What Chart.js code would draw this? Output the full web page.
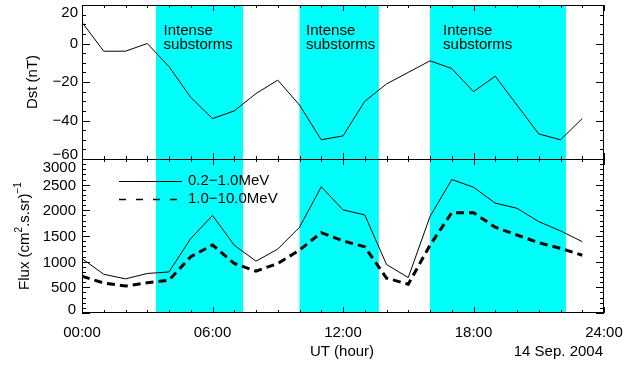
<!DOCTYPE html>
<html>
<head>
<meta charset="utf-8">
<script src="https://cdn.jsdelivr.net/npm/chart.js@4.4.1/dist/chart.umd.min.js"></script>
<style>
  html, body { margin: 0; padding: 0; background: #fff; }
</style>
</head>
<body>
<canvas id="chart" width="637" height="365"></canvas>
<script>
// hourly values, 14 Sep 2004
const hours = [0, 1, 2, 3, 4, 5, 6, 7, 8, 9, 10, 11, 12, 13, 14, 15, 16, 17, 18, 19, 20, 21, 22, 23];
const dst = [11, -4, -4, 0, -12, -28, -39, -35, -26, -19, -32, -50, -48, -30, -21, -15, -9, -13, -25, -17, -32, -47, -50, -39];
const fluxLow = [1060, 755, 665, 770, 800, 1450, 1900, 1320, 1010, 1245, 1670, 2460, 2010, 1910, 945, 690, 1880, 2600, 2450, 2140, 2040, 1780, 1600, 1390];
const fluxHigh = [715, 585, 525, 590, 640, 1095, 1325, 965, 815, 965, 1225, 1565, 1405, 1290, 680, 560, 1320, 1955, 1955, 1670, 1520, 1370, 1260, 1125];

const stormBands = [[3.4, 7.4], [10, 13.65], [16, 22.25]];
const stormLabelAt = [3.75, 10.3, 16.6];
const hourTicks = [0, 6, 12, 18, 24];
const hourLabels = ['00:00', '06:00', '12:00', '18:00', '24:00'];
const dstTicks = [20, 0, -20, -40, -60];
const fluxTicks = [0, 500, 1000, 1500, 2000, 2500, 3000];

const FONT = '15px "Liberation Sans", Arial, sans-serif';
const SMALL = '10px "Liberation Sans", Arial, sans-serif';
const CYAN = '#00FFFA';

const toXY = (ys) => hours.map((h, i) => ({x: h, y: ys[i]}));
const fmt = (v) => String(v).replace('-', '\u2212');

const panels = {
  beforeDatasetsDraw(chart) {
    const {ctx, chartArea: a, scales: {x}} = chart;
    ctx.save();
    ctx.fillStyle = CYAN;
    stormBands.forEach(([s, e]) => {
      const x0 = x.getPixelForValue(s), x1 = x.getPixelForValue(e);
      ctx.fillRect(x0, a.top, x1 - x0, a.bottom - a.top);
    });
    ctx.restore();
  },
  afterDatasetsDraw(chart) {
    const {ctx, chartArea: a, scales: {x, yDst, yFlux}} = chart;
    ctx.save();
    ctx.strokeStyle = '#000';
    ctx.fillStyle = '#000';
    ctx.lineWidth = 1;
    const mid = yDst.bottom;

    // frame and separator
    ctx.strokeRect(a.left + 0.5, a.top + 0.5, a.right - a.left - 1, a.bottom - a.top - 1);
    ctx.beginPath();
    ctx.moveTo(a.left, Math.round(mid) + 0.5);
    ctx.lineTo(a.right, Math.round(mid) + 0.5);
    ctx.stroke();

    // x ticks
    ctx.beginPath();
    for (let h = 0; h <= 24; h++) {
      const px = Math.round(x.getPixelForValue(h)) + 0.5;
      const len = h % 6 === 0 ? 6 : 3;
      ctx.moveTo(px, a.top); ctx.lineTo(px, a.top + len);
      ctx.moveTo(px, mid - len); ctx.lineTo(px, mid + len);
      ctx.moveTo(px, a.bottom); ctx.lineTo(px, a.bottom - len);
    }
    // y ticks
    const yTicks = (scale, step, major) => {
      for (let v = scale.min; v <= scale.max; v += step) {
        const py = Math.round(scale.getPixelForValue(v)) + 0.5;
        const len = v % major === 0 ? 8 : 4;
        ctx.moveTo(a.left, py); ctx.lineTo(a.left + len, py);
        ctx.moveTo(a.right, py); ctx.lineTo(a.right - len, py);
      }
    };
    yTicks(yDst, 5, 20);
    yTicks(yFlux, 100, 500);
    ctx.stroke();

    // tick labels
    ctx.font = FONT;
    ctx.textBaseline = 'middle';
    ctx.textAlign = 'right';
    const clampY = (py, s) => Math.min(Math.max(py, s.top + 8), s.bottom - 4);
    dstTicks.forEach(v => ctx.fillText(fmt(v), 78, clampY(yDst.getPixelForValue(v), yDst)));
    fluxTicks.forEach(v => ctx.fillText(String(v), 76, clampY(yFlux.getPixelForValue(v), yFlux) + 1));
    ctx.textAlign = 'center';
    hourTicks.forEach((h, i) => ctx.fillText(hourLabels[i], x.getPixelForValue(h), 333));
    ctx.fillText('UT (hour)', 342, 352);
    ctx.textAlign = 'right';
    ctx.fillText('14 Sep. 2004', 603, 352);

    // storm labels
    ctx.textAlign = 'left';
    stormLabelAt.forEach(h => {
      const px = x.getPixelForValue(h);
      ctx.fillText('Intense', px, 31);
      ctx.fillText('substorms', px, 45);
    });

    // axis titles
    ctx.save();
    ctx.translate(33, (yDst.top + yDst.bottom) / 2);
    ctx.rotate(-Math.PI / 2);
    ctx.textAlign = 'center';
    ctx.fillText('Dst (nT)', 0, 0);
    ctx.restore();

    ctx.save();
    ctx.translate(25, (yFlux.top + yFlux.bottom) / 2);
    ctx.rotate(-Math.PI / 2);
    ctx.textAlign = 'left';
    const parts = [['Flux (cm', FONT, 0], ['2', SMALL, -6], ['.s.sr)', FONT, 0], ['\u22121', SMALL, -7]];
    let total = 0;
    parts.forEach(([t, f]) => { ctx.font = f; total += ctx.measureText(t).width; });
    let cx = -total / 2;
    parts.forEach(([t, f, dy]) => {
      ctx.font = f;
      ctx.fillText(t, cx, dy);
      cx += ctx.measureText(t).width;
    });
    ctx.restore();

    // legend
    ctx.font = FONT;
    ctx.textAlign = 'left';
    ctx.beginPath();
    ctx.moveTo(119, 181.5); ctx.lineTo(182, 181.5);
    ctx.stroke();
    ctx.setLineDash([7, 10]);
    ctx.lineWidth = 1.5;
    ctx.beginPath();
    ctx.moveTo(119, 199.5); ctx.lineTo(182, 199.5);
    ctx.stroke();
    ctx.setLineDash([]);
    ctx.fillText(chart.data.datasets[1].label, 188, 181);
    ctx.fillText(chart.data.datasets[2].label, 188, 199);
    ctx.restore();
  }
};

new Chart(document.getElementById('chart'), {
  type: 'line',
  data: {
    datasets: [{
      label: 'Dst',
      data: toXY(dst),
      yAxisID: 'yDst',
      borderColor: '#000',
      borderWidth: 1,
      pointRadius: 0
    }, {
      label: '0.2\u22121.0MeV',
      data: toXY(fluxLow),
      yAxisID: 'yFlux',
      borderColor: '#000',
      borderWidth: 1,
      pointRadius: 0
    }, {
      label: '1.0\u221210.0MeV',
      data: toXY(fluxHigh),
      yAxisID: 'yFlux',
      borderColor: '#000',
      borderWidth: 3,
      borderDash: [8, 5],
      pointRadius: 0
    }]
  },
  options: {
    responsive: false,
    animation: false,
    devicePixelRatio: 1,
    layout: {padding: {left: 82, right: 33, top: 5, bottom: 52}},
    plugins: {legend: {display: false}, tooltip: {enabled: false}},
    scales: {
      x: {type: 'linear', min: 0, max: 24, display: false},
      yDst: {type: 'linear', min: -60, max: 20, display: false, position: 'left', stack: 'panels', stackWeight: 1, weight: 1},
      yFlux: {type: 'linear', min: 0, max: 3000, display: false, position: 'left', stack: 'panels', stackWeight: 1, weight: 0}
    }
  },
  plugins: [panels]
});
</script>
</body>
</html>
